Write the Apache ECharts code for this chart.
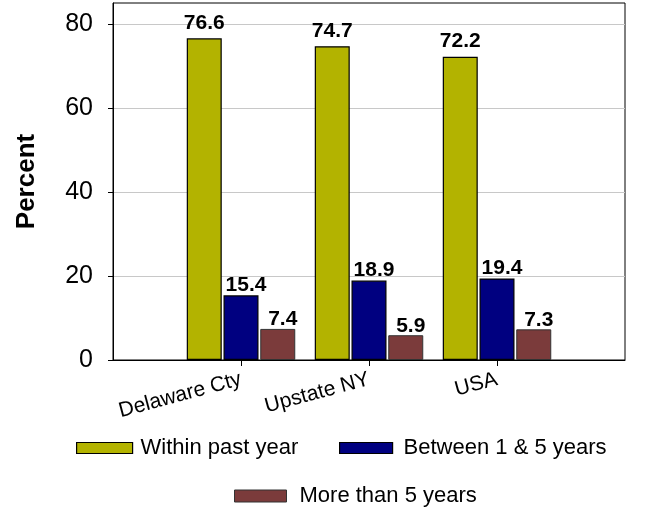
<!DOCTYPE html>
<html>
<head>
<meta charset="utf-8">
<title>Time since last checkup</title>
<script src="https://cdn.jsdelivr.net/npm/echarts@6/dist/echarts.min.js"></script>
<style>
  html, body { margin: 0; padding: 0; background: #fff; }
  #chart { width: 660px; height: 516px; }
</style>
</head>
<body>
<div id="chart"></div>
<script>
// Regions shown on the category axis
const categories = ['Delaware Cty', 'Upstate NY', 'USA'];

// Percent of respondents by time since last visit
const withinPastYear = [76.6, 74.7, 72.2];
const between1And5 = [15.4, 18.9, 19.4];
const moreThan5 = [7.4, 5.9, 7.3];

const seriesNames = ['Within past year', 'Between 1 & 5 years', 'More than 5 years'];
const yTicks = [0, 20, 40, 60, 80];

// The axis is padded with an empty slot on each side so the three groups
// sit on the inner tick marks of the framed plot.
const axisData = [''].concat(categories, ['']);
const pad = (arr) => [null].concat(arr, [null]);

const FONT = '"Liberation Sans", Arial, sans-serif';
const colors = ['#b3b300', '#000080', '#7b3b3b'];

const labelBase = {
  show: true,
  position: 'top',
  fontFamily: FONT,
  fontSize: 21,
  fontWeight: 'bold',
  color: '#000'
};

const chart = echarts.init(document.getElementById('chart'), null, { renderer: 'canvas' });

chart.setOption({
  animation: false,
  backgroundColor: '#fff',
  grid: {
    left: 113,
    top: 3,
    width: 512,
    height: 357,
    show: true,
    borderColor: '#000',
    borderWidth: 1,
    backgroundColor: 'transparent'
  },
  xAxis: {
    type: 'category',
    data: axisData,
    boundaryGap: false,
    axisLine: { show: true, lineStyle: { color: '#000', width: 1 } },
    axisTick: {
      show: true,
      length: 6,
      interval: (i) => i >= 1 && i <= categories.length,
      lineStyle: { color: '#000' }
    },
    axisLabel: {
      interval: 0,
      rotate: 15,
      margin: 19,
      fontFamily: FONT,
      fontSize: 21,
      color: '#000'
    },
    splitLine: { show: false }
  },
  yAxis: {
    type: 'value',
    min: 0,
    max: 85,
    interval: 20,
    name: 'Percent',
    nameLocation: 'middle',
    nameRotate: 90,
    nameGap: 73,
    nameTextStyle: {
      fontFamily: FONT,
      fontSize: 26,
      fontWeight: 'bold',
      color: '#000'
    },
    axisLine: { show: true, lineStyle: { color: '#000', width: 1 } },
    axisTick: {
      show: true,
      length: 5,
      customValues: yTicks,
      lineStyle: { color: '#000' }
    },
    axisLabel: {
      customValues: yTicks,
      margin: 20,
      fontFamily: FONT,
      fontSize: 25,
      color: '#000'
    },
    splitLine: { show: true, lineStyle: { color: '#c8c8c8', width: 1 } }
  },
  legend: [
    {
      data: [seriesNames[0]],
      left: 76, top: 437, padding: 0,
      itemWidth: 56, itemHeight: 11, icon: 'rect',
      itemStyle: { borderColor: '#000', borderWidth: 1.2 },
      textStyle: { fontFamily: FONT, fontSize: 22, color: '#000', padding: [0, 0, 0, 3] }
    },
    {
      data: [seriesNames[1]],
      left: 339, top: 437, padding: 0,
      itemWidth: 53, itemHeight: 11, icon: 'rect',
      itemStyle: { borderColor: '#000', borderWidth: 1.2 },
      textStyle: { fontFamily: FONT, fontSize: 22, color: '#000', padding: [0, 0, 0, 6] }
    },
    {
      data: [seriesNames[2]],
      left: 234, top: 485, padding: 0,
      itemWidth: 52, itemHeight: 12, icon: 'rect',
      itemStyle: { borderColor: '#333', borderWidth: 1 },
      textStyle: { fontFamily: FONT, fontSize: 22, color: '#000', padding: [0, 0, 0, 8] }
    }
  ],
  series: [
    {
      name: seriesNames[0],
      type: 'bar',
      data: pad(withinPastYear),
      barWidth: 35,
      barGap: '5%',
      itemStyle: { color: colors[0], borderColor: '#000', borderWidth: 1.2 },
      label: Object.assign({}, labelBase, { distance: 5 })
    },
    {
      name: seriesNames[1],
      type: 'bar',
      data: pad(between1And5),
      barWidth: 35,
      barGap: '5%',
      itemStyle: { color: colors[1], borderColor: '#000', borderWidth: 1.2 },
      label: Object.assign({}, labelBase, { distance: 0, offset: [5, 0] })
    },
    {
      name: seriesNames[2],
      type: 'bar',
      data: pad(moreThan5),
      barWidth: 35,
      barGap: '5%',
      itemStyle: { color: colors[2], borderColor: '#333', borderWidth: 1 },
      label: Object.assign({}, labelBase, { distance: -1, offset: [5, 0] })
    }
  ]
});
</script>
</body>
</html>
